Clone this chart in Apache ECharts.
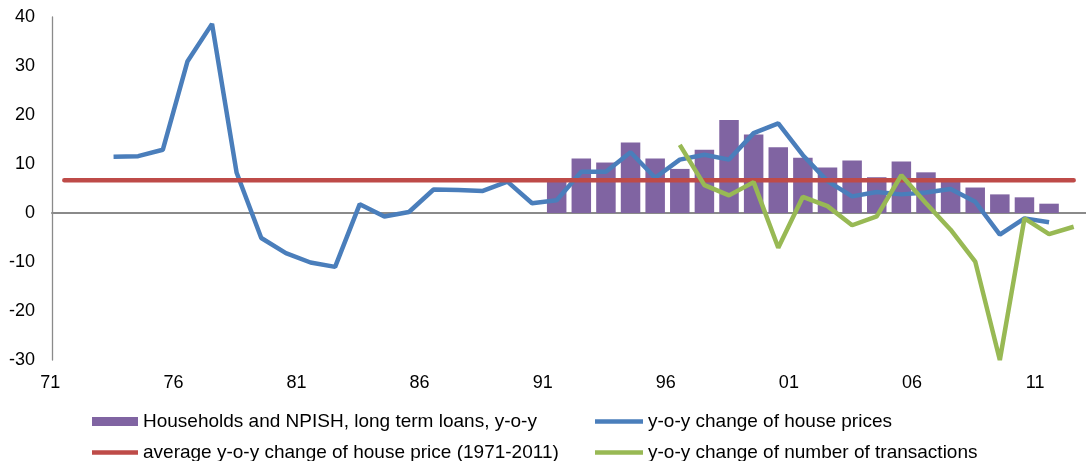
<!DOCTYPE html>
<html>
<head>
<meta charset="utf-8">
<script src="https://cdn.jsdelivr.net/npm/echarts@6/dist/echarts.min.js"></script>
<style>
  html, body { margin: 0; padding: 0; background: #ffffff; }
  #chart { width: 1086px; height: 461px; }
</style>
</head>
<body>
<div id="chart"></div>
<script>
// Years on the category axis (1971-2012)
const years = [
  '1971','1972','1973','1974','1975','1976','1977','1978','1979','1980',
  '1981','1982','1983','1984','1985','1986','1987','1988','1989','1990',
  '1991','1992','1993','1994','1995','1996','1997','1998','1999','2000',
  '2001','2002','2003','2004','2005','2006','2007','2008','2009','2010',
  '2011','2012'
];

// Households and NPISH, long term loans, y-o-y (%)
const loans = [
  null, null, null, null, null, null, null, null, null, null,
  null, null, null, null, null, null, null, null, null, null,
  6.6, 11.1, 10.3, 14.4, 11.1, 9.0, 12.9, 19.0, 16.0, 13.4,
  11.3, 9.3, 10.7, 7.3, 10.5, 8.3, 7.0, 5.2, 3.8, 3.2,
  1.9, null
];

// y-o-y change of house prices (%)
const housePrices = [
  null, null, 11.5, 11.6, 12.9, 30.9, 38.6, 8.2, -5.1, -8.2,
  -10.1, -11.0, 1.8, -0.7, 0.2, 4.8, 4.7, 4.5, 6.4, 2.0,
  2.6, 8.4, 8.4, 12.4, 7.2, 10.9, 11.9, 10.9, 16.3, 18.3,
  11.8, 6.5, 3.4, 4.3, 3.8, 4.2, 4.9, 2.3, -4.4, -1.1,
  -1.9, null
];

// average y-o-y change of house price, 1971-2011 (%)
const averageChange = [
  6.7, 6.7, 6.7, 6.7, 6.7, 6.7, 6.7, 6.7, 6.7, 6.7,
  6.7, 6.7, 6.7, 6.7, 6.7, 6.7, 6.7, 6.7, 6.7, 6.7,
  6.7, 6.7, 6.7, 6.7, 6.7, 6.7, 6.7, 6.7, 6.7, 6.7,
  6.7, 6.7, 6.7, 6.7, 6.7, 6.7, 6.7, 6.7, 6.7, 6.7,
  6.7, 6.7
];

// y-o-y change of number of transactions (%)
const transactions = [
  null, null, null, null, null, null, null, null, null, null,
  null, null, null, null, null, null, null, null, null, null,
  null, null, null, null, null, 13.9, 5.7, 3.6, 6.3, -7.1,
  3.3, 1.4, -2.5, -0.7, 7.7, 2.0, -3.4, -9.9, -30.0, -1.1,
  -4.3, -2.8
];

// Y axis range and step
const yMin = -30, yMax = 40, yStep = 10;

const names = {
  loans: 'Households and NPISH, long term loans, y-o-y',
  prices: 'y-o-y change of house prices',
  average: 'average y-o-y change of house price (1971-2011)',
  trans: 'y-o-y change of number of transactions'
};

const COLORS = { loans: '#8064A2', prices: '#4A7EBB', average: '#BE4B48', trans: '#98B954' };

const FONT = '"Liberation Sans", Arial, sans-serif';
const legendText = { fontFamily: FONT, fontSize: 19, color: '#000' };

function legendAt(name, left, top, w, h) {
  return {
    data: [{ name: name, icon: 'rect' }],
    left: left, top: top, itemWidth: w, itemHeight: h,
    padding: 0, textStyle: legendText, selectedMode: false
  };
}

const chart = echarts.init(document.getElementById('chart'), null, { renderer: 'canvas' });

chart.setOption({
  animation: false,
  backgroundColor: '#ffffff',
  grid: { left: 52, top: 17, width: 1042, height: 343, containLabel: false },
  legend: [
    legendAt(names.loans, 92, 412, 46, 9),
    legendAt(names.prices, 595, 412, 48, 4.5),
    legendAt(names.average, 92, 443, 46, 4.5),
    legendAt(names.trans, 595, 443, 48, 4.5)
  ],
  xAxis: [
    {
      type: 'category',
      data: years,
      boundaryGap: true,
      axisLine: { show: false, onZero: false },
      axisTick: { show: false },
      splitLine: { show: false },
      axisLabel: {
        interval: 4,
        margin: 14,
        fontFamily: FONT,
        fontSize: 18,
        color: '#000',
        padding: [0, 28, 0, 0],
        formatter: v => v.slice(2)
      }
    },
    {
      // zero line across the plot
      type: 'category',
      data: years,
      position: 'bottom',
      boundaryGap: true,
      axisLine: { show: true, onZero: true, lineStyle: { color: '#8a8a8a', width: 2 } },
      axisTick: { show: false },
      axisLabel: { show: false },
      splitLine: { show: false }
    }
  ],
  yAxis: {
    type: 'value',
    min: yMin,
    max: yMax,
    interval: yStep,
    axisLine: { show: true, lineStyle: { color: '#8a8a8a', width: 1.3 } },
    axisTick: { show: false },
    splitLine: { show: false },
    axisLabel: { margin: 17, fontFamily: FONT, fontSize: 18, color: '#000' }
  },
  series: [
    {
      name: names.loans,
      type: 'bar',
      data: loans,
      barWidth: 19.5,
      itemStyle: { color: COLORS.loans }
    },
    {
      name: names.prices,
      type: 'line',
      data: housePrices,
      symbol: 'none',
      lineStyle: { color: COLORS.prices, width: 4.5 },
      itemStyle: { color: COLORS.prices }
    },
    {
      name: names.average,
      type: 'line',
      data: averageChange,
      symbol: 'none',
      lineStyle: { color: COLORS.average, width: 4.5, cap: 'round' },
      itemStyle: { color: COLORS.average }
    },
    {
      name: names.trans,
      type: 'line',
      data: transactions,
      symbol: 'none',
      lineStyle: { color: COLORS.trans, width: 4.5 },
      itemStyle: { color: COLORS.trans }
    }
  ]
});
</script>
</body>
</html>
